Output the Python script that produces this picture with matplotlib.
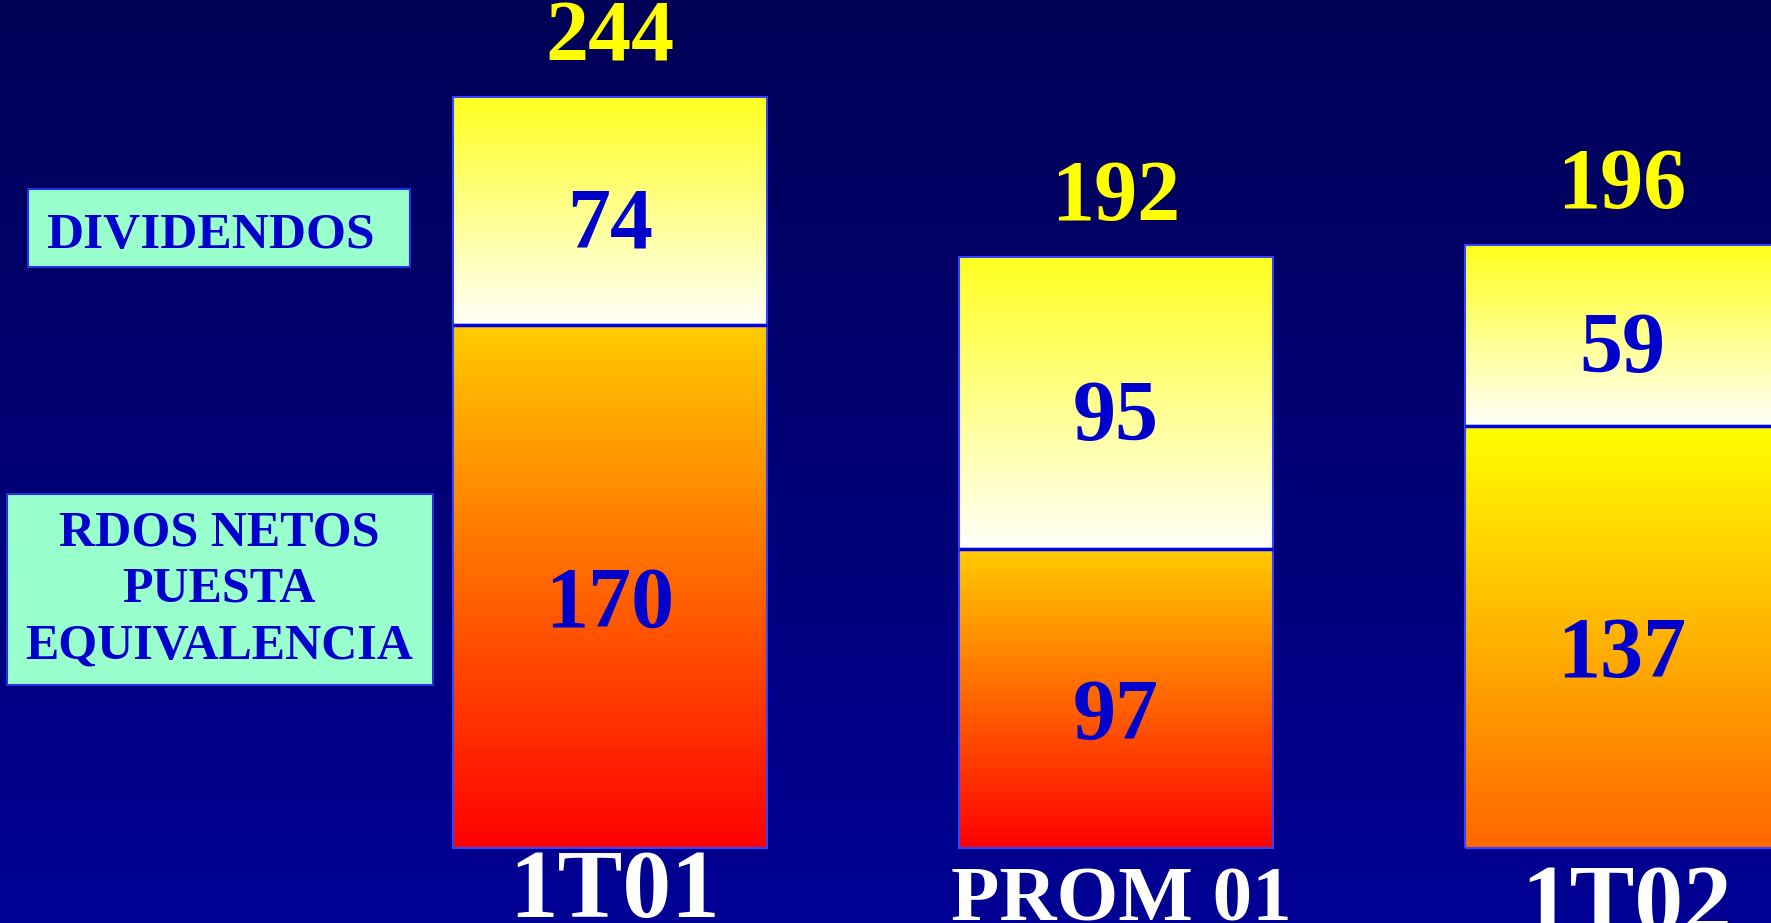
import numpy as np
import matplotlib
matplotlib.use("Agg")
import matplotlib.pyplot as plt
import matplotlib.colors as mcolors
from matplotlib.patches import Rectangle

# --- Data ---
categories = ['1T01', 'PROM 01', '1T02']
rdos_netos = [170, 97, 137]
dividendos = [74, 95, 59]
totals = [244, 192, 196]

# --- Style ---
FONT = 'Liberation Serif'
BG_TOP, BG_BOT = '#000056', '#000094'
DIV_COLORS = [('#ffff20', '#fffffa'), ('#ffff20', '#fffffa'), ('#ffff1a', '#fffffa')]
RDOS_COLORS = [('#ffcc00', '#ff0000'), ('#ffcc00', '#ff0000'), ('#ffff00', '#ff6600')]
LABEL_BLUE = '#0000cc'
BAR_W = 0.62
cat_sizes = [70, 57, 70]
cat_y = [-22.4, -23.4, -27.3]


def grad_rect(ax, x0, x1, y0, y1, c_top, c_bot, z=2):
    t = np.linspace(0, 1, 256).reshape(-1, 1, 1)
    top = np.array(mcolors.to_rgb(c_top))
    bot = np.array(mcolors.to_rgb(c_bot))
    img = top * (1 - t) + bot * t
    ax.imshow(img, extent=(x0, x1, y0, y1), aspect='auto', zorder=z,
              interpolation='bilinear')
    ax.add_patch(Rectangle((x0, y0), x1 - x0, y1 - y0, fill=False,
                           edgecolor='#3344ff', lw=1.5, zorder=z + 1))


fig = plt.figure(figsize=(17.71, 9.23), dpi=100)
ax = fig.add_axes([0, 0, 1, 1])
ax.axis('off')

XLIM = (-1.2055, 2.2945)
YLIM = (-24.37, 275.5)

# --- Background gradient ---
t = np.linspace(0, 1, 256).reshape(-1, 1, 1)
bg = np.array(mcolors.to_rgb(BG_TOP)) * (1 - t) + np.array(mcolors.to_rgb(BG_BOT)) * t
ax.imshow(bg, extent=(XLIM[0], XLIM[1], YLIM[0], YLIM[1]), aspect='auto', zorder=0)

# --- Stacked bars ---
for i, cat in enumerate(categories):
    x0, x1 = i - BAR_W / 2, i + BAR_W / 2
    r, d = rdos_netos[i], dividendos[i]
    grad_rect(ax, x0, x1, 0, r, *RDOS_COLORS[i])
    grad_rect(ax, x0, x1, r, r + d, *DIV_COLORS[i])
    ax.plot([x0, x1], [r, r], color='#0000e0', lw=2.5, zorder=5,
            solid_capstyle='butt')

    ax.text(i, r / 2 - 13, str(r), ha='center', va='baseline',
            fontsize=62, fontweight='bold', family=FONT, color=LABEL_BLUE, zorder=6)
    ax.text(i, r + d / 2 - 12, str(d), ha='center', va='baseline',
            fontsize=62, fontweight='bold', family=FONT, color=LABEL_BLUE, zorder=6)
    ax.text(i, totals[i] + 12, str(totals[i]), ha='center', va='baseline',
            fontsize=62, fontweight='bold', family=FONT, color='#ffff00', zorder=6)
    ax.text(i + 0.01, cat_y[i], cat, ha='center', va='baseline',
            fontsize=cat_sizes[i], fontweight='bold', family=FONT, color='white', zorder=6)

ax.set_xlim(*XLIM)
ax.set_ylim(*YLIM)

# --- Legend boxes ---
fig.patches.append(Rectangle((0.0158, 0.7107), 0.2157, 0.0845, transform=fig.transFigure,
                             facecolor='#99ffcc', edgecolor='#2233dd', lw=1.5, zorder=3))
fig.text(0.119, 0.7308, 'DIVIDENDOS', ha='center', va='baseline', fontsize=37,
         fontweight='bold', family=FONT, color=LABEL_BLUE, zorder=4)

fig.patches.append(Rectangle((0.00395, 0.2579), 0.2405, 0.2069, transform=fig.transFigure,
                             facecolor='#99ffcc', edgecolor='#2233dd', lw=1.5, zorder=3))
fig.text(0.1237, 0.3608, 'RDOS NETOS\nPUESTA\nEQUIVALENCIA', ha='center', va='center',
         fontsize=36, fontweight='bold', family=FONT, color=LABEL_BLUE,
         linespacing=1.3, zorder=4)

fig.savefig('out.png', dpi=100, facecolor=BG_BOT)
